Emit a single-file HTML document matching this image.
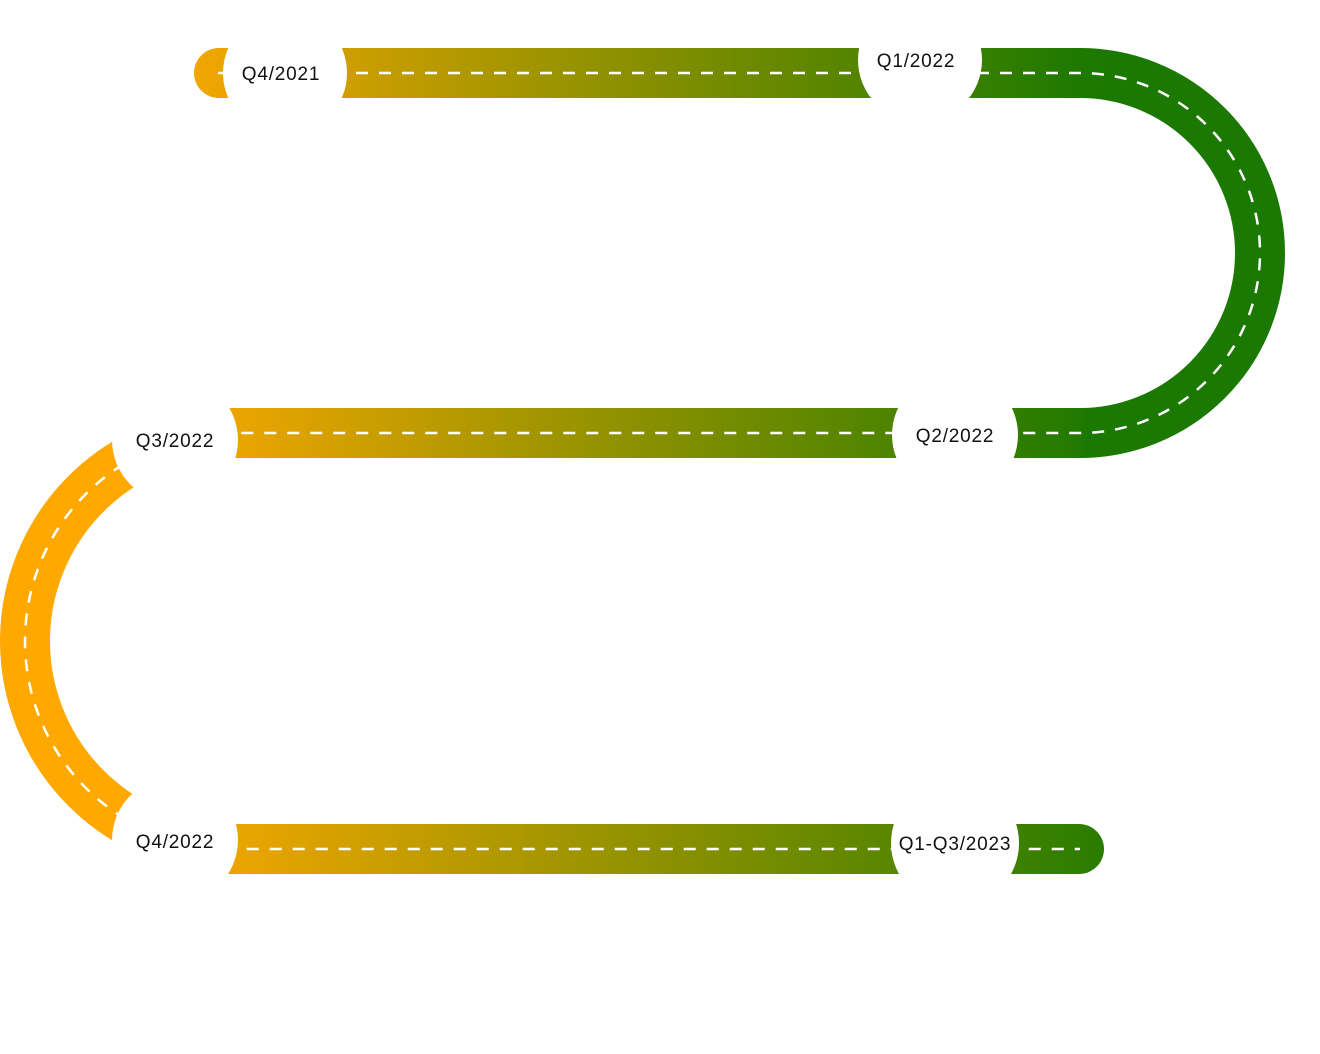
<!DOCTYPE html>
<html><head><style>html,body{margin:0;padding:0;background:#fff}svg{display:block}</style></head>
<body>
<svg width="1320" height="1054" viewBox="0 0 1320 1054" xmlns="http://www.w3.org/2000/svg">
<defs>
<linearGradient id="g1" gradientUnits="userSpaceOnUse" x1="194" y1="0" x2="1080" y2="0">
<stop offset="0" stop-color="#f2a600"/><stop offset="1" stop-color="#1e7900"/></linearGradient>
<linearGradient id="g2" gradientUnits="userSpaceOnUse" x1="230" y1="0" x2="1080" y2="0">
<stop offset="0" stop-color="#eca500"/><stop offset="1" stop-color="#217a00"/></linearGradient>
<linearGradient id="g3" gradientUnits="userSpaceOnUse" x1="230" y1="0" x2="1104" y2="0">
<stop offset="0" stop-color="#eca500"/><stop offset="1" stop-color="#2a7c00"/></linearGradient>
</defs>
<path d="M1080 73 A180 180 0 0 1 1080 433" fill="none" stroke="#1b7800" stroke-width="50"/>
<path d="M233 433 A208 208 0 0 0 233 849" fill="none" stroke="#ffa800" stroke-width="50"/>
<path d="M219 73 H1080" stroke="url(#g1)" stroke-width="50" stroke-linecap="round"/>
<rect x="230" y="408" width="852" height="50" fill="url(#g2)"/>
<path d="M230 849 H1079" stroke="url(#g3)" stroke-width="50" stroke-linecap="round"/>
<g fill="none" stroke="#fff" stroke-width="2.5" stroke-dasharray="12 11">
<path d="M218 73 H1080 A180 180 0 0 1 1080 433 H230"/>
<path d="M233 433 A208 208 0 0 0 233 849 H1080"/>
</g>
<g fill="#fff">
<circle cx="285" cy="73" r="62"/>
<circle cx="920" cy="60" r="62"/>
<circle cx="955" cy="435" r="63"/>
<circle cx="175" cy="440" r="63"/>
<circle cx="175" cy="840" r="63"/>
<circle cx="955" cy="843" r="64"/>
</g>
<g font-family="Liberation Sans, sans-serif" font-size="19" letter-spacing="0.8" fill="#111" text-anchor="middle">
<text x="281" y="80">Q4/2021</text>
<text x="916" y="67">Q1/2022</text>
<text x="955" y="442">Q2/2022</text>
<text x="175" y="447">Q3/2022</text>
<text x="175" y="848">Q4/2022</text>
<text x="955" y="850">Q1-Q3/2023</text>
</g>
</svg>
</body></html>
